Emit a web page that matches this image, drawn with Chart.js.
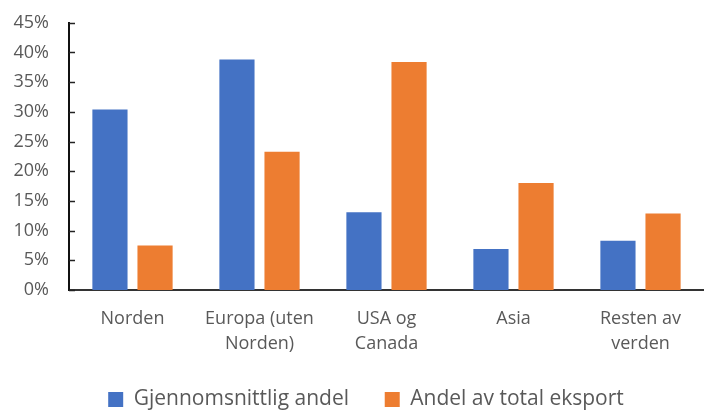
<!DOCTYPE html>
<html lang="no">
<head>
    <meta charset="UTF-8">
    <title>Eksport etter region</title>
    <script src="https://cdn.jsdelivr.net/npm/chart.js"></script>
    <style>
        html, body { margin: 0; padding: 0; background: #fff; overflow: hidden; }
        #wrap { width: 704px; height: 415px; overflow: hidden; }
    </style>
</head>
<body>
    <div id="wrap"><canvas id="exportChart" width="704" height="422"></canvas></div>

    <script>
        // Data
        const regions = [
            'Norden',
            ['Europa (uten', 'Norden)'],
            ['USA og', 'Canada'],
            'Asia',
            ['Resten av', 'verden']
        ];
        const avgShare = [30.4, 38.8, 13.1, 6.9, 8.3];
        const exportShare = [7.5, 23.3, 38.4, 18.0, 12.9];
        const seriesNames = ['Gjennomsnittlig andel', 'Andel av total eksport'];
        const yMax = 45;
        const yStep = 5;

        const textColor = '#595959';
        const fontFamily = '"Open Sans", "Liberation Sans", sans-serif';

        // Excel-style tick marks on the inside of the y axis
        const insideTicks = {
            id: 'insideTicks',
            afterDraw(chart) {
                const y = chart.scales.y;
                const ctx = chart.ctx;
                ctx.save();
                ctx.strokeStyle = '#222';
                ctx.lineWidth = 1.5;
                y.ticks.forEach(t => {
                    const py = Math.round(y.getPixelForValue(t.value)) + 0.5;
                    ctx.beginPath();
                    ctx.moveTo(y.right, py);
                    ctx.lineTo(y.right + 6, py);
                    ctx.stroke();
                });
                ctx.restore();
            }
        };

        // the original legend sits a bit right of centre
        const legendShift = {
            id: 'legendShift',
            afterLayout(chart) {
                chart.legend.left += 14;
                chart.legend.right += 14;
            }
        };

        const ctx = document.getElementById('exportChart').getContext('2d');
        new Chart(ctx, {
            type: 'bar',
            data: {
                labels: regions,
                datasets: [
                    { label: seriesNames[0], data: avgShare, backgroundColor: '#4472C4' },
                    { label: seriesNames[1], data: exportShare, backgroundColor: '#ED7D31' }
                ]
            },
            options: {
                responsive: false,
                animation: false,
                categoryPercentage: 0.71,
                barPercentage: 0.78,
                layout: { padding: { top: 0, right: 0, bottom: 2, left: 0 } },
                plugins: {
                    tooltip: { enabled: false },
                    legend: {
                        position: 'bottom',
                        labels: {
                            color: textColor,
                            font: { family: fontFamily, size: 21 },
                            boxWidth: 15,
                            boxHeight: 15,
                            padding: 3,
                            // wider gap between the two entries
                            generateLabels: chart => {
                                const items = Chart.defaults.plugins.legend.labels.generateLabels(chart);
                                items[0].text += '\u00a0'.repeat(6);
                                return items;
                            }
                        }
                    }
                },
                scales: {
                    x: {
                        grid: { display: false },
                        border: { color: '#333', width: 2 },
                        afterFit: s => { s.height = 96; },
                        ticks: {
                            color: textColor,
                            font: { family: fontFamily, size: 18, lineHeight: 1.4 },
                            padding: 8,
                            maxRotation: 0
                        }
                    },
                    y: {
                        min: 0,
                        max: yMax,
                        grid: { display: false },
                        border: { color: '#111', width: 2 },
                        afterFit: s => { s.width = 69; },
                        ticks: {
                            stepSize: yStep,
                            color: textColor,
                            font: { family: fontFamily, size: 18 },
                            padding: 12,
                            callback: v => v + '%'
                        }
                    }
                }
            },
            plugins: [insideTicks, legendShift]
        });
    </script>
</body>
</html>
